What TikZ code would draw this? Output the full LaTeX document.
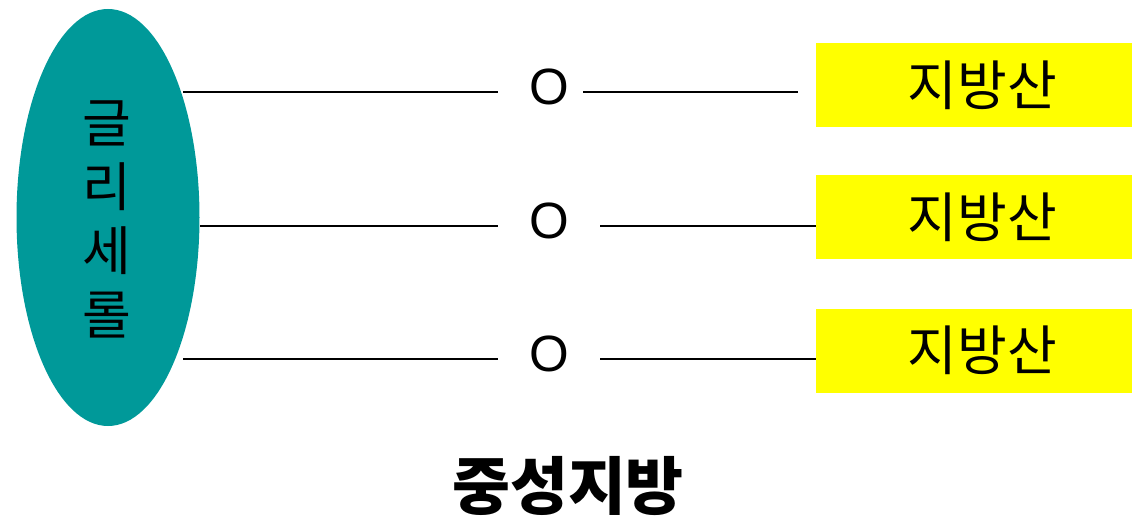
\documentclass[tikz,border=0pt]{standalone}
\usepackage{fontspec}
\usetikzlibrary{shapes.geometric}
\setmainfont{Noto Sans CJK KR}
\newfontfamily\kr{Noto Sans CJK KR}
\newfontfamily\arialish{Liberation Sans}
\definecolor{tealfill}{HTML}{009999}
\definecolor{boxyellow}{HTML}{FFFF00}
\begin{document}
\begin{tikzpicture}[x=1pt,y=-1pt,
  lbl/.style={font=\arialish\fontsize{51}{60}\selectfont, inner sep=0pt},
  fatty/.style={fill=boxyellow, draw=none, minimum width=316pt, minimum height=84pt, inner sep=0pt, font=\kr\fontsize{54}{60}\selectfont},
  conn/.style={line width=2.8pt, black}]
\useasboundingbox (0,0) rectangle (1132,521);
\node[ellipse, fill=tealfill, draw=none, minimum width=183pt, minimum height=417pt, inner sep=0pt] (gly) at (108,217.5) {};
\node[font=\kr\fontsize{53}{64}\selectfont, align=center, inner sep=0pt] (glytext) at (107,219) {글\\리\\세\\롤};
% rows
\node[fatty] (f1) at (974,85) {\hspace*{17pt}지방산};
\node[fatty] (f2) at (974,217.5) {\hspace*{17pt}지방산};
\node[fatty] (f3) at (974,350.5) {\hspace*{17pt}지방산};
\node[lbl] (o1) at (549,87) {O};
\node[lbl] (o2) at (549,221) {O};
\node[lbl] (o3) at (549,354) {O};
\coordinate (a1) at (183,92);
\coordinate (b1) at (498,92);
\coordinate (c1) at (583,92);
\coordinate (d1) at (798,92);
\coordinate (a2) at (200,226);
\coordinate (b2) at (498,226);
\coordinate (c2) at (600,226);
\coordinate (a3) at (183,359);
\coordinate (b3) at (498,359);
\coordinate (c3) at (600,359);
\draw[conn] (a1) -- (b1);
\draw[conn] (c1) -- (d1);
\draw[conn] (a2) -- (b2);
\draw[conn] (c2) -- (f2.west |- c2);
\draw[conn] (a3) -- (b3);
\draw[conn] (c3) -- (f3.west |- c3);
\node[font=\kr\bfseries\fontsize{63}{66}\selectfont, inner sep=0pt] (title) at (568,486) {중성지방};
\end{tikzpicture}
\end{document}
